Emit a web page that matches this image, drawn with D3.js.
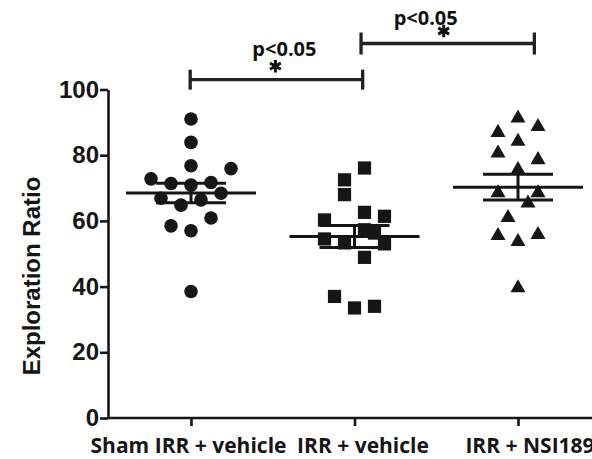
<!DOCTYPE html>
<html><head><meta charset="utf-8">
<script src="https://cdn.jsdelivr.net/npm/d3@7"></script>
<style>
html,body{margin:0;padding:0;background:#fff;}
svg{display:block;}
</style></head>
<body><svg id="chart" width="592" height="459"></svg>
<script>
// ---------------- data ----------------
const groups = ["Sham IRR + vehicle", "IRR + vehicle", "IRR + NSI189"];
const shamValues = [91.0, 83.9, 76.8, 75.9, 72.8, 71.4, 70.9, 71.7, 68.4, 66.9, 66.4, 64.8, 60.9, 58.5, 57.0, 38.5];
const shamLane   = [0, 0, 0, 4, -4, -2, 0, 2, 3, -3, 1, -1, 2, -2, 0, 0];
const vehValues  = [76.1, 72.5, 68.0, 62.6, 61.4, 60.3, 57.3, 56.3, 54.5, 53.3, 53.0, 48.9, 37.0, 34.0, 33.5];
const vehLane    = [1, -1, -1, 1, 3, -3, 1, 2, -3, -1, 3, 1, -2, 2, 0];
const nsiValues  = [91.3, 88.7, 86.9, 84.2, 80.6, 78.6, 75.6, 68.5, 68.5, 65.4, 61.0, 55.8, 55.5, 53.7, 39.6];
const nsiLane    = [0, 2, -2, 0, -2, 2, 0, -2, 2, 1, -1, 2, -2, 0, 0];
const yTicks = [0, 20, 40, 60, 80, 100];
const yTitle = "Exploration Ratio";
const comparisons = [
  {from: 0, to: 1, level: 103, label: "p<0.05"},
  {from: 1, to: 2, level: 114, label: "p<0.05"}
];

// ---------------- layout ----------------
const svg = d3.select("#chart");
const axisX = 108, axisY = 418, topY = 89.5;
const ink = "#161616";
const laneW = 10;
const meanHalf = 65, semHalf = 35;

const x = d3.scalePoint().domain(groups).range([191, 518]);
const xi = d3.scaleLinear().domain([0, 2]).range([191, 518]);
const y = d3.scaleLinear().domain([0, 100]).range([axisY, topY]);

const series = [
  {g: groups[0], v: shamValues, lane: shamLane, shape: "circle"},
  {g: groups[1], v: vehValues, lane: vehLane, shape: "square"},
  {g: groups[2], v: nsiValues, lane: nsiLane, shape: "triangle"}
];

// y axis
const yAxis = svg.append("g").attr("transform", `translate(${axisX},0)`)
  .call(d3.axisLeft(y).tickValues(yTicks).tickSize(8).tickPadding(1).tickSizeOuter(0));
yAxis.select(".domain").attr("stroke", ink).attr("stroke-width", 2.6);
yAxis.selectAll(".tick line").attr("stroke", ink).attr("stroke-width", 2.6);
yAxis.selectAll(".tick text").attr("fill", ink)
  .style("font-family", "'Liberation Sans', Arial, sans-serif")
  .style("font-weight", "bold").style("font-size", "24px");

// x axis
const xAxis = svg.append("g").attr("transform", `translate(0,${axisY})`)
  .call(d3.axisBottom(x).tickSize(8).tickSizeOuter(0).tickFormat(""));
xAxis.select(".domain").attr("d", `M${axisX},0H592`).attr("stroke", ink).attr("stroke-width", 2.6);
xAxis.selectAll(".tick line").attr("stroke", ink).attr("stroke-width", 2.6);
const labelShift = [-2.5, 8.5, 12];
svg.append("g").selectAll("text").data(groups).join("text")
  .attr("x", (d, i) => x(d) + labelShift[i]).attr("y", 453)
  .attr("text-anchor", "middle").attr("fill", ink)
  .style("font-family", "'Open Sans', sans-serif").style("font-weight", "bold").style("font-size", "21px")
  .text(d => d);

// y title
svg.append("text").attr("transform", "translate(40,276) rotate(-90)")
  .attr("text-anchor", "middle").attr("fill", ink)
  .style("font-family", "'Liberation Sans', Arial, sans-serif")
  .style("font-weight", "bold").style("font-size", "24px")
  .text(yTitle);

// points
const pts = svg.append("g");
series.forEach(s => {
  const cx = x(s.g);
  s.v.forEach((val, i) => {
    const px = cx + s.lane[i] * laneW, py = y(val);
    if (s.shape === "circle") {
      pts.append("circle").attr("cx", px).attr("cy", py).attr("r", 6.8).attr("fill", ink);
    } else if (s.shape === "square") {
      pts.append("rect").attr("x", px - 6.6).attr("y", py - 6.6).attr("width", 13.2).attr("height", 13.2).attr("fill", ink);
    } else {
      pts.append("path").attr("d", d3.symbol(d3.symbolTriangle, 98)())
        .attr("transform", `translate(${px},${py})`).attr("fill", ink);
    }
  });
});

// mean +/- SEM
const stats = svg.append("g").attr("stroke", ink).attr("stroke-width", 3).attr("fill", "none");
series.forEach(s => {
  const cx = x(s.g);
  const m = d3.mean(s.v);
  const sem = d3.deviation(s.v) / Math.sqrt(s.v.length);
  stats.append("line").attr("x1", cx - meanHalf).attr("x2", cx + meanHalf).attr("y1", y(m)).attr("y2", y(m));
  stats.append("line").attr("x1", cx - semHalf).attr("x2", cx + semHalf).attr("y1", y(m + sem)).attr("y2", y(m + sem));
  stats.append("line").attr("x1", cx - semHalf).attr("x2", cx + semHalf).attr("y1", y(m - sem)).attr("y2", y(m - sem));
  stats.append("line").attr("x1", cx).attr("x2", cx).attr("y1", y(m + sem)).attr("y2", y(m - sem));
});

// significance brackets
const bracketEnds = [[-0.005, 1.05], [1.04, 2.1]];
const tickHalf = [10, 11];
const labelPos = [[8, -24], [-22, -18.5]];
const starPos = [[-1, -13.5], [-4, -12.5]];
const br = svg.append("g");
comparisons.forEach((c, i) => {
  const x1 = xi(bracketEnds[i][0] === -0.005 ? c.from - 0.005 : bracketEnds[i][0]), x2 = xi(bracketEnds[i][1]);
  const by = y(c.level);
  const g = br.append("g").attr("stroke", "#222").attr("stroke-width", 3.3);
  g.append("line").attr("x1", x1).attr("x2", x2).attr("y1", by).attr("y2", by);
  g.append("line").attr("x1", x1).attr("x2", x1).attr("y1", by - tickHalf[i]).attr("y2", by + tickHalf[i]);
  g.append("line").attr("x1", x2).attr("x2", x2).attr("y1", by - tickHalf[i]).attr("y2", by + tickHalf[i]);
  const mid = (x1 + x2) / 2;
  br.append("text").attr("x", mid + labelPos[i][0]).attr("y", by + labelPos[i][1])
    .attr("text-anchor", "middle").attr("fill", "#111")
    .style("font-family", "'Open Sans', sans-serif").style("font-weight", "bold").style("font-size", "20px")
    .text(c.label);
  br.append("path").attr("d", d3.symbol(d3.symbolAsterisk, 110)())
    .attr("transform", `translate(${mid + starPos[i][0]},${by + starPos[i][1]})`)
    .attr("stroke", "#111").attr("stroke-width", 3).attr("fill", "none");
});
</script>
</body></html>
